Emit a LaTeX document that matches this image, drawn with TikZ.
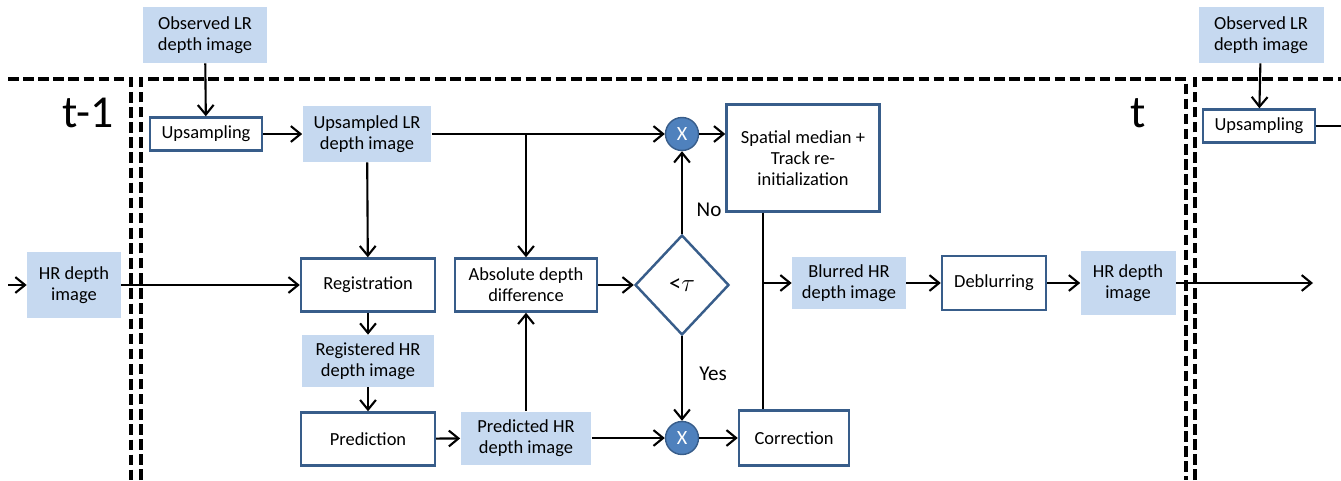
\documentclass[tikz,border=0pt]{standalone}
\usepackage{fontspec}
\setmainfont{Carlito}
\usepackage{tikz}
\usetikzlibrary{shapes.geometric}
\usetikzlibrary{arrows.meta}
\definecolor{boxblue}{RGB}{56,93,138}
\definecolor{fillblue}{RGB}{198,217,240}
\definecolor{dotblue}{RGB}{79,129,189}

\begin{document}
\begin{tikzpicture}[x=0.02cm, y=-0.02cm,
	every node/.style={font=\fontsize{10.5}{12}\selectfont, align=center, inner sep=1pt},
	img/.style={fill=fillblue, draw=none},
	proc/.style={draw=boxblue, line width=1.4pt, fill=white},
	mult/.style={circle, fill=dotblue, draw=boxblue, line width=0.8pt, minimum size=0.66cm, text=white, font=\fontsize{11.5}{12}\selectfont},
	arr/.style={-{Straight Barb[length=5.5pt,width=9pt]}, line width=1.2pt},
	sep/.style={dash pattern=on 6pt off 2.6pt, line width=2.2pt}]
			\useasboundingbox (0,0) rectangle (1341,480);
			% Frame borders
			\draw[sep] (8,79) -- (131,79) -- (131,480);
			\draw[sep] (141,480) -- (141,79) -- (1186,79) -- (1186,480);
			\draw[sep] (1195,480) -- (1195,79) -- (1341,79);
			\node[font=\fontsize{26}{30}\selectfont] (tprev) at (88,113) {t-1};
			\node[font=\fontsize{26}{30}\selectfont] (tnow) at (1138,113) {t};
			% Nodes
			\node[img, minimum width=2.48cm, minimum height=1.12cm] (obs) at (205,35) {Observed LR\\depth image};
			\node[proc, minimum width=2.24cm, minimum height=0.66cm] (ups) at (206,134) {Upsampling};
			\node[img, minimum width=2.58cm, minimum height=1.12cm] (upsimg) at (367,134) {Upsampled LR\\depth image};
			\node[mult] (x1) at (682,134) {X};
			\node[proc, minimum width=3.06cm, minimum height=2.14cm] (spat) at (803,158) {Spatial median +\\Track re-\\initialization};
			\node[img, minimum width=1.88cm, minimum height=1.32cm] (hrin) at (74,285) {HR depth\\image};
			\node[proc, minimum width=2.68cm, minimum height=1.06cm] (reg) at (368,285) {Registration};
			\node[proc, minimum width=2.84cm, minimum height=1.06cm] (absd) at (526,285) {Absolute depth\\difference};
			\node[proc, diamond, minimum width=1.88cm, minimum height=2cm, inner sep=0pt, font=\fontsize{14}{16}\selectfont] (thr) at (682,285) {<$\tau$};
			\node[img, minimum width=2.28cm, minimum height=1.04cm] (blur) at (849,283) {Blurred HR\\depth image};
			\node[proc, minimum width=2.08cm, minimum height=1.08cm] (deb) at (994,283) {Deblurring};
			\node[img, minimum width=1.9cm, minimum height=1.3cm] (hrout) at (1128,283) {HR depth\\image};
			\node[img, minimum width=2.66cm, minimum height=1.04cm] (regimg) at (368,361) {Registered HR\\depth image};
			\node[proc, minimum width=2.68cm, minimum height=1.06cm] (pred) at (368,439) {Prediction};
			\node[img, minimum width=2.62cm, minimum height=1.06cm] (predimg) at (526,438) {Predicted HR\\depth image};
			\node[mult] (x2) at (682,438) {X};
			\node[proc, minimum width=2.2cm, minimum height=1.1cm] (corr) at (794,438) {Correction};
			\node[img, minimum width=2.5cm, minimum height=1.12cm] (obs2) at (1261,35) {Observed LR\\depth image};
			\node[proc, minimum width=2.24cm, minimum height=0.66cm] (ups2) at (1259,126) {Upsampling};
			\node[font=\fontsize{12}{14}\selectfont] (no) at (709,210) {No};
			\node[font=\fontsize{12}{14}\selectfont] (yes) at (713,374) {Yes};
			% Free ends
			\coordinate (in) at (8,285);
			\coordinate (out) at (1313,283);
			\coordinate (cut) at (1341,126);
			\coordinate (br) at (526,134);
			\coordinate (jn) at (763,283);
			% Edges
			\draw[arr] (obs) -- (ups);
			\draw[arr] (ups) -- (upsimg);
			\draw[arr] (upsimg) -- (x1);
			\draw[arr] (br) -- (absd);
			\draw[arr] (x1) -- (spat.west |- x1);
			\draw[arr] (upsimg) -- (reg);
			\draw[arr] (in) -- (hrin);
			\draw[arr] (hrin) -- (reg);
			\draw[arr] (reg) -- (regimg);
			\draw[arr] (regimg) -- (pred);
			\draw[arr] (pred) -- (predimg);
			\draw[arr] (predimg) -- (absd);
			\draw[arr] (absd) -- (thr);
			\draw[arr] (thr) -- (x1);
			\draw[arr] (thr) -- (x2);
			\draw[arr] (predimg) -- (x2);
			\draw[arr] (x2) -- (corr);
			\draw[line width=1.2pt] (spat.south -| jn) -- (corr.north -| jn);
			\draw[arr] (jn) -- (blur);
			\draw[arr] (blur) -- (deb);
			\draw[arr] (deb) -- (hrout);
			\draw[arr] (hrout) -- (out);
			\draw[arr] (obs2) -- (ups2);
			\draw[line width=1.2pt] (ups2) -- (cut);
		\end{tikzpicture}
\end{document}
